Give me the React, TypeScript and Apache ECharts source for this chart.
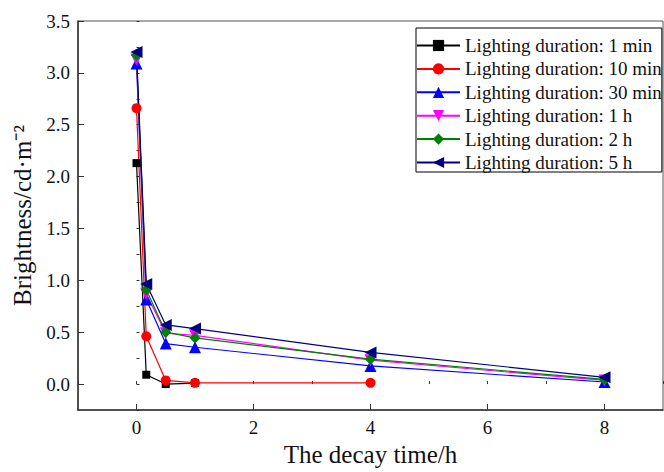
import React, { useEffect, useRef } from "react";
import * as echarts from "echarts";

// decay time in hours (0, 10 min, 30 min, 1 h, 4 h, 8 h)
const decayTimes = [0, 0.167, 0.5, 1, 4, 8];

const seriesNames = [
  "Lighting duration: 1 min",
  "Lighting duration: 10 min",
  "Lighting duration: 30 min",
  "Lighting duration: 1 h",
  "Lighting duration: 2 h",
  "Lighting duration: 5 h",
];

const dur1min = [2.13, 0.09, 0.0, 0.01];
const dur10min = [2.66, 0.46, 0.035, 0.012, 0.012];
const dur30min = [3.09, 0.815, 0.39, 0.355, 0.175, 0.02];
const dur1h = [3.13, 0.87, 0.49, 0.47, 0.23, 0.035];
const dur2h = [3.17, 0.91, 0.5, 0.445, 0.24, 0.045];
const dur5h = [3.2, 0.965, 0.57, 0.535, 0.305, 0.065];

const xTickLabels = [0, 2, 4, 6, 8];
const yTickLabels = [0, 0.5, 1, 1.5, 2, 2.5, 3, 3.5];

const FONT = "'Liberation Serif', 'Times New Roman', serif";

const seriesStyles = [
  { color: "#000000", symbol: "rect", size: 8, rotate: 0 },
  { color: "#ff0000", symbol: "circle", size: 10, rotate: 0 },
  { color: "#0000ff", symbol: "triangle", size: 12, rotate: 0 },
  { color: "#ff00ff", symbol: "triangle", size: 12, rotate: 180 },
  { color: "#008000", symbol: "diamond", size: 11, rotate: 0 },
  { color: "#000080", symbol: "triangle", size: 12, rotate: 90 },
];

const seriesValues = [dur1min, dur10min, dur30min, dur1h, dur2h, dur5h];

export default function App() {
  const ref = useRef<HTMLDivElement>(null);

  useEffect(() => {
    if (!ref.current) return;
    const chart = echarts.init(ref.current, null, { renderer: "svg" });

    const series = seriesValues.map((vals, i) => ({
      name: seriesNames[i],
      type: "line",
      xAxisIndex: 0,
      yAxisIndex: 0,
      data: vals.map((v, j) => [decayTimes[j], v]),
      symbol: seriesStyles[i].symbol,
      symbolSize: seriesStyles[i].size,
      symbolRotate: seriesStyles[i].rotate,
      showAllSymbol: true,
      lineStyle: { color: seriesStyles[i].color, width: 1.2 },
      itemStyle: { color: seriesStyles[i].color },
      emphasis: { disabled: true },
      clip: false,
    }));

    chart.setOption({
      animation: false,
      backgroundColor: "#ffffff",
      textStyle: { fontFamily: FONT },
      grid: {
        left: 78,
        right: 1,
        top: 21,
        bottom: 59,
        show: true,
        borderColor: "#555",
        borderWidth: 1,
        backgroundColor: "transparent",
      },
      legend: {
        orient: "vertical",
        left: 416,
        top: 28,
        padding: [8, 0, 0, 0],
        itemWidth: 43,
        itemHeight: 14,
        itemGap: 4.4,
        borderColor: "#000",
        borderWidth: 1,
        borderRadius: 0,
        backgroundColor: "#fff",
        textStyle: {
          fontFamily: FONT,
          fontSize: 19,
          color: "#111",
        },
        data: seriesNames,
      },
      xAxis: [
        {
          type: "value",
          min: -1,
          max: 9,
          interval: 1,
          name: "The decay time/h",
          nameLocation: "middle",
          nameGap: 32,
          nameTextStyle: { fontFamily: FONT, fontSize: 25, color: "#111" },
          axisLine: { show: true, onZero: false, lineStyle: { color: "#333", width: 1.5 } },
          axisTick: {
            show: true,
            inside: true,
            length: 6,
            customValues: xTickLabels,
            lineStyle: { color: "#333", width: 1 },
          },
          axisLabel: {
            show: true,
            customValues: xTickLabels,
            fontFamily: FONT,
            fontSize: 19,
            color: "#111",
            margin: 8,
          },
          splitLine: { show: false },
        },
        {
          type: "value",
          min: -1,
          max: 9,
          interval: 1,
          position: "bottom",
          axisLine: { show: false },
          axisTick: { show: true, inside: true, length: 3, lineStyle: { color: "#333", width: 1 } },
          axisLabel: { show: false },
          splitLine: { show: false },
        },
      ],
      yAxis: [
        {
          type: "value",
          min: -0.25,
          max: 3.5,
          interval: 0.25,
          name: "Brightness/cd·m\u207B\u00B2",
          nameLocation: "middle",
          nameGap: 42,
          nameTextStyle: { fontFamily: FONT, fontSize: 25, color: "#111" },
          axisLine: { show: true, onZero: false, lineStyle: { color: "#333", width: 1.5 } },
          axisTick: {
            show: true,
            inside: true,
            length: 6,
            customValues: yTickLabels,
            lineStyle: { color: "#333", width: 1 },
          },
          axisLabel: {
            show: true,
            customValues: yTickLabels,
            formatter: (v: number) => v.toFixed(1),
            fontFamily: FONT,
            fontSize: 19,
            color: "#111",
            margin: 8,
          },
          splitLine: { show: false },
        },
        {
          type: "value",
          min: -0.25,
          max: 3.5,
          interval: 0.25,
          position: "left",
          axisLine: { show: false },
          axisTick: { show: true, inside: true, length: 3, lineStyle: { color: "#333", width: 1 } },
          axisLabel: { show: false },
          splitLine: { show: false },
        },
      ],
      series,
    });

    return () => chart.dispose();
  }, []);

  return (
    <div
      ref={ref}
      style={{ position: "fixed", left: 0, top: 0, width: 664, height: 472 }}
    />
  );
}
